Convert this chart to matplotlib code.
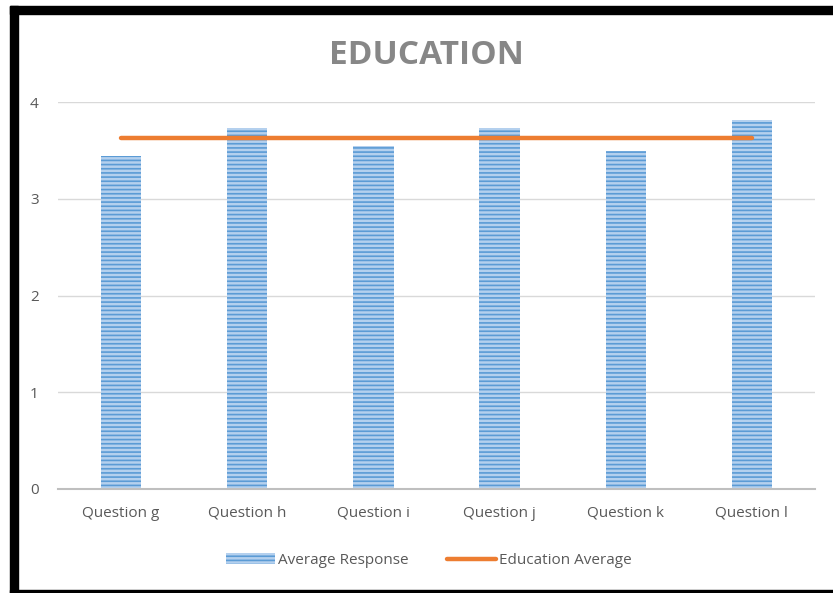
import matplotlib
matplotlib.use("Agg")
import matplotlib.pyplot as plt
from matplotlib.patches import Rectangle
import numpy as np

questions = ["Question g", "Question h", "Question i", "Question j", "Question k", "Question l"]
avg_response = [3.44, 3.73, 3.55, 3.73, 3.49, 3.81]
education_avg = 3.625

plt.rcParams['font.family'] = ['Open Sans', 'DejaVu Sans']
plt.rcParams['hatch.linewidth'] = 1.2

fig = plt.figure(figsize=(8.33, 5.93), dpi=100)
W, H = 833, 593

# black frame around the chart (screenshot border)
fig.patches.append(Rectangle((10 / W, 1 - 14 / H), 1, 8 / H, transform=fig.transFigure,
                             color='black', zorder=0))
fig.patches.append(Rectangle((10 / W, 0), 8 / W, 1 - 6 / H, transform=fig.transFigure,
                             color='black', zorder=0))
fig.patches.append(Rectangle((10 / W, 0), 1, 3 / H, transform=fig.transFigure,
                             color='black', zorder=0))

ax = fig.add_axes([58 / W, 1 - 489 / H, (815 - 58) / W, (489 - 102) / H])
x = np.arange(len(questions))

bars = ax.bar(x, avg_response, width=0.32, color='#B4D0EE', edgecolor='#5B9BD5',
              hatch='----', linewidth=0, label='Average Response', zorder=2)
line, = ax.plot([x[0], x[-1]], [education_avg, education_avg], color='#ED7D31',
                linewidth=3.2, solid_capstyle='round', label='Education Average', zorder=3)

ax.set_xlim(-0.5, len(questions) - 0.5)
ax.set_ylim(0, 4)
ax.set_yticks([0, 1, 2, 3, 4])
ax.set_xticks(x)
ax.set_xticklabels(questions)
ax.grid(axis='y', color='#D9D9D9', linewidth=1, zorder=0)
for s in ['top', 'right', 'left']:
    ax.spines[s].set_visible(False)
ax.spines['bottom'].set_color('#BFBFBF')
ax.spines['bottom'].set_linewidth(1.5)
ax.tick_params(length=0, labelsize=11, colors='#595959')
ax.tick_params(axis='y', pad=14)
ax.tick_params(axis='x', pad=12)

fig.text(426 / W, 1 - 55 / H, "EDUCATION", ha='center', va='center', fontsize=24,
         fontweight='bold', color='#878787')

ax.legend([bars, line], ['Average Response', 'Education Average'],
          loc='upper center', bbox_to_anchor=(0.49, -0.13), ncol=2, frameon=False,
          fontsize=11, labelcolor='#595959', handlelength=3.2, handletextpad=0.2,
          columnspacing=2.5)

fig.savefig("out.png", dpi=100)
